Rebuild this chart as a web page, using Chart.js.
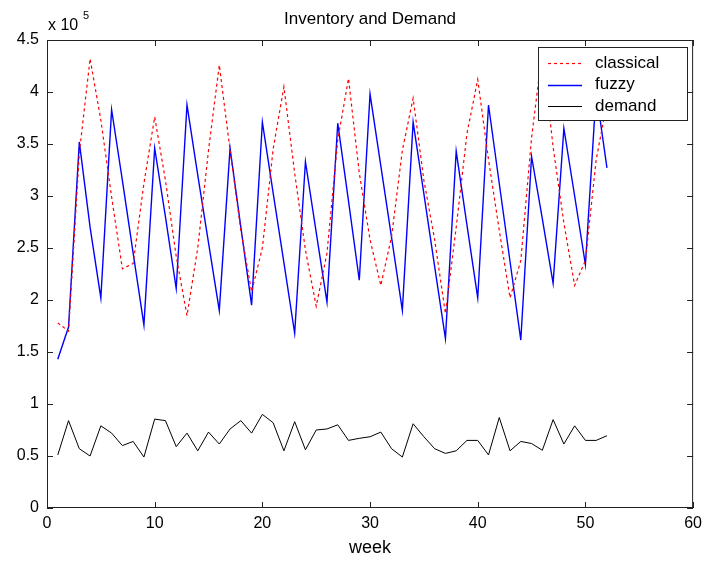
<!DOCTYPE html>
<html>
<head>
<meta charset="utf-8">
<title>Inventory and Demand</title>
<script src="https://cdn.jsdelivr.net/npm/chart.js@4.4.0/dist/chart.umd.min.js"></script>
<style>
    html, body { margin: 0; padding: 0; background: #fff; }
    #wrap { width: 708px; height: 563px; position: relative; }
</style>
</head>
<body>
<div id="wrap"><canvas id="chart" width="708" height="563"></canvas></div>
<script>
// data, values read in units of 10^5
var weeks = [1, 2, 3, 4, 5, 6, 7, 8, 9, 10, 11, 12, 13, 14, 15, 16, 17, 18, 19, 20, 21, 22, 23, 24, 25, 26,
    27, 28, 29, 30, 31, 32, 33, 34, 35, 36, 37, 38, 39, 40, 41, 42, 43, 44, 45, 46, 47, 48, 49, 50, 51, 52];

var classical = [1.78, 1.70, 3.41, 4.32, 3.73, 2.99, 2.30, 2.35, 3.12, 3.76, 3.15, 2.42, 1.85, 2.50, 3.44, 4.26,
    3.44, 2.67, 2.08, 2.50, 3.45, 4.05, 3.22, 2.48, 1.94, 2.45, 3.54, 4.13, 3.22, 2.58, 2.14, 2.61, 3.44, 3.94,
    3.15, 2.58, 1.87, 2.70, 3.60, 4.12, 3.35, 2.67, 2.02, 2.38, 3.56, 4.40, 3.47, 2.74, 2.14, 2.38, 3.35, 3.90];

var fuzzy = [1.43, 1.74, 3.52, 2.70, 2.02, 3.83, 3.15, 2.45, 1.76, 3.46, 2.80, 2.11, 3.875, 3.20, 2.55, 1.90,
    3.46, 2.70, 1.95, 3.71, 3.03, 2.36, 1.68, 3.33, 2.65, 1.98, 3.70, 2.95, 2.19, 3.98, 3.29, 2.60, 1.90, 3.71,
    3.02, 2.32, 1.63, 3.43, 2.72, 2.02, 3.875, 3.12, 2.37, 1.615, 3.38, 2.78, 2.16, 3.65, 3.00, 2.34, 4.00, 3.27];

var demand = [0.51, 0.84, 0.57, 0.50, 0.79, 0.72, 0.60, 0.64, 0.49, 0.855, 0.84, 0.59, 0.72, 0.55, 0.73, 0.615,
    0.76, 0.84, 0.72, 0.90, 0.82, 0.55, 0.83, 0.56, 0.75, 0.76, 0.80, 0.65, 0.67, 0.685, 0.73, 0.57, 0.49, 0.81,
    0.685, 0.57, 0.525, 0.55, 0.65, 0.65, 0.51, 0.87, 0.55, 0.64, 0.62, 0.555, 0.85, 0.615, 0.79, 0.65, 0.65, 0.695];

var xTicks = [0, 10, 20, 30, 40, 50, 60];
var yTicks = [0, 0.5, 1, 1.5, 2, 2.5, 3, 3.5, 4, 4.5];

var seriesNames = ["classical", "fuzzy", "demand"];
var seriesColors = ["#ff0000", "#0000ff", "#000000"];
var seriesDash = [[3, 3], [], []];
var seriesWidth = [1.2, 1.4, 1];

var axisColor = "#222";
var fontName = "'Liberation Sans', Arial, sans-serif";

function toPoints(ys) {
    return weeks.map(function(w, i) {
        return { x: w, y: ys[i] };
    });
}

function makeDataset(idx, ys) {
    return {
        label: seriesNames[idx],
        data: toPoints(ys),
        borderColor: seriesColors[idx],
        backgroundColor: seriesColors[idx],
        borderWidth: seriesWidth[idx],
        borderDash: seriesDash[idx],
        pointRadius: 0,
        tension: 0,
        fill: false
    };
}

// matlab style box, inward ticks, legend box and the text around the axes
var matlabFrame = {
    id: "matlabFrame",
    afterDraw: function(chart) {
        var ctx = chart.ctx,
            area = chart.chartArea,
            xs = chart.scales.x,
            ys = chart.scales.y,
            tickLen = 6;

        ctx.save();
        ctx.strokeStyle = axisColor;
        ctx.lineWidth = 1;
        ctx.setLineDash([]);
        ctx.strokeRect(area.left + 0.5, area.top + 0.5, area.right - area.left - 1, area.bottom - area.top - 1);

        ctx.beginPath();
        xTicks.forEach(function(v) {
            var px = Math.round(xs.getPixelForValue(v)) + 0.5;
            ctx.moveTo(px, area.bottom);
            ctx.lineTo(px, area.bottom - tickLen);
            ctx.moveTo(px, area.top);
            ctx.lineTo(px, area.top + tickLen);
        });
        yTicks.forEach(function(v) {
            var py = Math.round(ys.getPixelForValue(v)) + 0.5;
            ctx.moveTo(area.left, py);
            ctx.lineTo(area.left + tickLen, py);
            ctx.moveTo(area.right, py);
            ctx.lineTo(area.right - tickLen, py);
        });
        ctx.stroke();

        // title and exponent
        ctx.fillStyle = "#000";
        ctx.textBaseline = "middle";
        ctx.textAlign = "center";
        ctx.font = "17px " + fontName;
        ctx.fillText("Inventory and Demand", (area.left + area.right) / 2, 19);

        ctx.textAlign = "left";
        ctx.font = "16px " + fontName;
        ctx.fillText("x 10", area.left + 1, 26);
        ctx.font = "11px " + fontName;
        ctx.fillText("5", area.left + 36, 16);

        // legend
        var lx = 538, ly = 47, lw = 149, lh = 73;
        ctx.fillStyle = "#fff";
        ctx.fillRect(lx, ly, lw, lh);
        ctx.strokeStyle = axisColor;
        ctx.strokeRect(lx + 0.5, ly + 0.5, lw, lh);

        ctx.font = "17px " + fontName;
        seriesNames.forEach(function(name, i) {
            var rowY = ly + 16 + i * 21.5;
            ctx.strokeStyle = seriesColors[i];
            ctx.lineWidth = seriesWidth[i];
            ctx.setLineDash(seriesDash[i]);
            ctx.beginPath();
            ctx.moveTo(lx + 10, Math.round(rowY) + 0.5);
            ctx.lineTo(lx + 44, Math.round(rowY) + 0.5);
            ctx.stroke();
            ctx.setLineDash([]);
            ctx.fillStyle = "#000";
            ctx.fillText(name, lx + 57, rowY);
        });

        ctx.restore();
    }
};

var chart = new Chart(document.getElementById("chart"), {
    type: "line",
    data: {
        datasets: [
            makeDataset(0, classical),
            makeDataset(1, fuzzy),
            makeDataset(2, demand)
        ]
    },
    options: {
        responsive: false,
        animation: false,
        layout: {
            padding: { left: 0, top: 40, right: 11, bottom: 0 }
        },
        plugins: {
            legend: { display: false },
            title: { display: false },
            tooltip: { enabled: false }
        },
        scales: {
            x: {
                type: "linear",
                min: 0,
                max: 60,
                afterFit: function(scale) {
                    scale.height = 55;
                },
                afterBuildTicks: function(scale) {
                    scale.ticks = xTicks.map(function(v) { return { value: v }; });
                },
                grid: { display: false, drawTicks: false },
                border: { display: false },
                ticks: {
                    color: "#000",
                    padding: 6,
                    maxRotation: 0,
                    font: { family: fontName, size: 16 },
                    callback: function(v) { return String(v); }
                },
                title: {
                    display: true,
                    text: "week",
                    color: "#000",
                    padding: { top: 0, bottom: 4 },
                    font: { family: fontName, size: 18 }
                }
            },
            y: {
                type: "linear",
                min: 0,
                max: 4.5,
                afterFit: function(scale) {
                    scale.width = 47;
                },
                afterBuildTicks: function(scale) {
                    scale.ticks = yTicks.map(function(v) { return { value: v }; });
                },
                grid: { display: false, drawTicks: false },
                border: { display: false },
                ticks: {
                    color: "#000",
                    padding: 8,
                    font: { family: fontName, size: 16 },
                    callback: function(v) { return String(v); }
                }
            }
        }
    },
    plugins: [matlabFrame]
});
</script>
</body>
</html>
